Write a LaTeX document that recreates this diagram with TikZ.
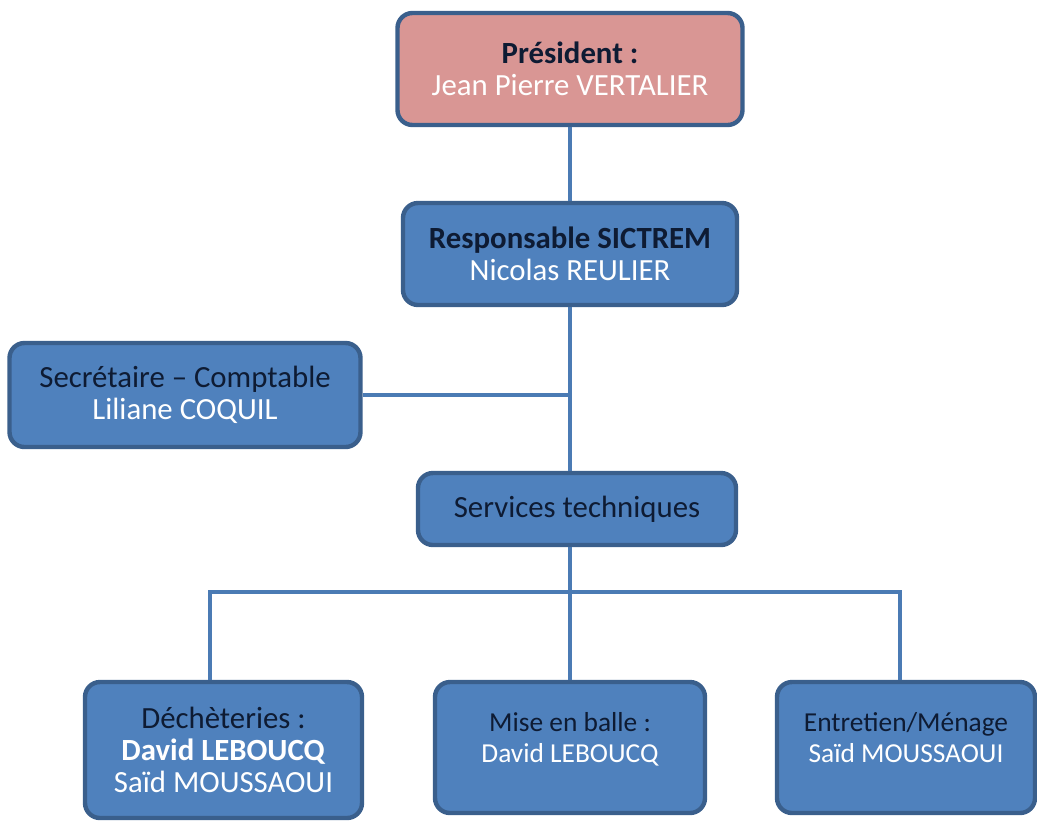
\documentclass[tikz,border=0pt]{standalone}
\usepackage{fontspec}
\setmainfont{Carlito}
\usepackage{tikz}
\definecolor{boxblue}{HTML}{4F81BD}
\definecolor{boxline}{HTML}{3A5F8C}
\definecolor{boxpink}{HTML}{D99694}
\definecolor{inktext}{HTML}{0E1B33}

\begin{document}
\begin{tikzpicture}[x=1pt, y=-1pt,
    orgbox/.style={draw=boxline, line width=2.2pt, rounded corners=7.5pt, fill=boxblue, align=center, inner sep=2pt,
        font=\fontsize{15.4}{15.9}\selectfont, text=inktext},
    smalltext/.style={font=\fontsize{13.7}{15.5}\selectfont},
    link/.style={draw=boxblue!95!black, line width=2pt}]
            \useasboundingbox (0,0) rectangle (518.5,410.5);

            \node (pres) at (285,34.5) [orgbox, fill=boxpink, minimum width=172.5pt, minimum height=56pt] {\textbf{Président :}\\ \textcolor{white}{Jean Pierre VERTALIER}};
            \node (resp) at (285,127) [orgbox, minimum width=167pt, minimum height=51pt] {\textbf{Responsable SICTREM}\\ \textcolor{white}{Nicolas REULIER}};
            \node (secr) at (92.5,197.5) [orgbox, minimum width=175.5pt, minimum height=52pt] {Secrétaire -- Comptable\\ \textcolor{white}{Liliane COQUIL}};
            \node (serv) at (288.5,254.5) [orgbox, minimum width=159pt, minimum height=36pt] {Services techniques};

            \node (dech) at (111.75,375) [orgbox, minimum width=138.5pt, minimum height=68pt] {Déchèteries :\\ \textcolor{white}{\textbf{David LEBOUCQ}}\\ \textcolor{white}{Saïd MOUSSAOUI}};
            \node (mise) at (285,373.75) [orgbox, smalltext, minimum width=135pt, minimum height=65.5pt] {Mise en balle :\\ \textcolor{white}{David LEBOUCQ}\\[-10pt] \strut};
            \node (entr) at (453,373.75) [orgbox, smalltext, minimum width=129pt, minimum height=65.5pt] {Entretien/Ménage\\ \textcolor{white}{Saïd MOUSSAOUI}\\[-10pt] \strut};

            \coordinate (busL) at (105,296);
            \coordinate (busR) at (450,296);

            \draw [link] (pres) -- (resp);
            \draw [link] (resp.south) -- (resp.south |- serv.north);
            \draw [link] (secr.east) -- (secr.east -| resp.south);
            \draw [link] (serv.south -| mise.north) -- (mise.north);
            \draw [link] (busL |- dech.north) -- (busL) -- (busR) -- (busR |- entr.north);
        \end{tikzpicture}
\end{document}
